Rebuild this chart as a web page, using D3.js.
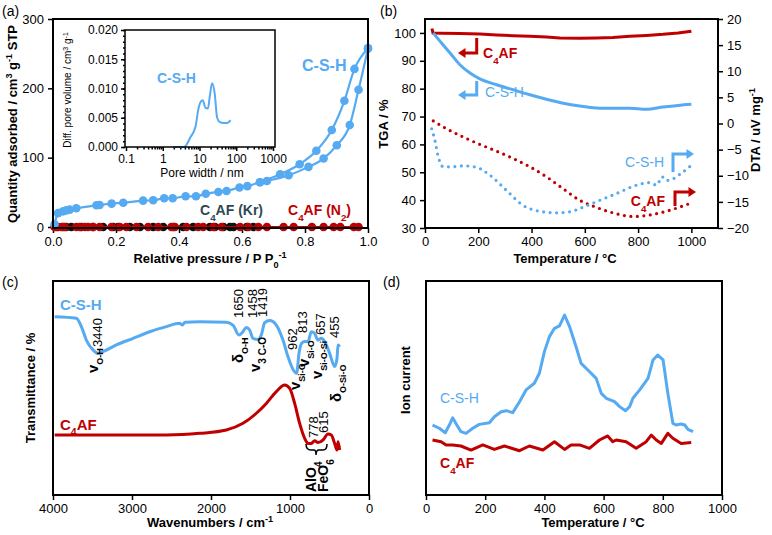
<!DOCTYPE html>
<html><head><meta charset="utf-8">
<script src="https://cdn.jsdelivr.net/npm/d3@7"></script>
<style>
body{margin:0;background:#fff;}
text{font-family:"Liberation Sans",Arial,sans-serif;}
</style></head>
<body>
<svg id="c" width="772" height="535"></svg>
<script>
// ---------- DATA ----------
// (a) N2 isotherm of C-S-H
const isoAdsP = [0.005,0.016,0.032,0.042,0.053,0.074,0.138,0.148,0.186,0.223,0.286,0.318,0.353,0.38,0.421,0.454,0.485,0.525,0.551,0.592,0.617,0.657,0.679,0.748,0.811,0.859,0.901,0.942,0.970,1.0];
const isoAdsQ = [4,20,22.6,24,25,27,31.3,31.8,33.7,35,38,38.5,41.4,41.4,44.3,44.3,48,50.5,52,57,59,64.5,66.4,74.6,86.7,98.7,118,147,198,257.6];
const isoDesP = [1.0,0.957,0.925,0.885,0.836,0.783,0.721,0.657];
const isoDesQ = [257.6,228,182,140,110,90.5,76,64.5];
const n2P = [0.005,0.016,0.027,0.037,0.074,0.085,0.101,0.111,0.127,0.148,0.186,0.212,0.233,0.265,0.302,0.334,0.376,0.387,0.424,0.461,0.477,0.509,0.535,0.594,0.620,0.652,0.679,0.732,0.764,0.822,0.859,0.891,0.912,0.955,0.970];
const krP = [0.011,0.032,0.042,0.058,0.090,0.127,0.159,0.191,0.207,0.244,0.276,0.318,0.350,0.382,0.413,0.445,0.498,0.514,0.541,0.562,0.573,0.615,0.636];
// inset: pore size distribution
const psdW = [1.87,3.8,5.7,7.8,9.2,10.7,12.3,14.5,17,19,22,26,30,35,46,56,70];
const psdV = [0,0,0.0017,0.0035,0.0063,0.0077,0.008,0.0067,0.0066,0.0086,0.0109,0.0091,0.0051,0.0043,0.0041,0.0041,0.0046];
// (b) TGA / DTA
const tgaC4T = [26,30,62,131,206,269,331,394,456,506,581,644,706,769,831,894,950,1000];
const tgaC4V = [101.6,100,99.9,99.8,99.6,99.3,99.0,98.8,98.5,98.2,98.1,98.2,98.4,98.8,99.1,99.5,100.0,100.6];
const tgaCshT = [31,62,94,131,169,206,269,331,394,456,519,581,656,706,769,831,894,950,1000];
const tgaCshV = [100,96.4,92.8,88.6,85.6,83.5,81.4,79.6,77.8,76.2,74.8,73.8,73.0,73.0,73.0,72.6,73.4,74.0,74.4];
const dtaC4T = [31,81,144,206,269,331,394,456,519,581,631,706,781,856,919,1000];
const dtaC4V = [0.5,-1,-2.6,-4,-5.3,-6.7,-8.3,-10.2,-12.5,-14.7,-15.8,-17.1,-17.8,-17.4,-16.6,-15.2];
const dtaCshT = [25,37,50,69,94,144,194,244,306,369,431,494,544,594,656,719,794,844,870,890,906,931,960,1000];
const dtaCshV = [-1,-3.2,-6.4,-8.3,-8.3,-8.1,-8.4,-9.9,-12.8,-15.7,-16.8,-17.1,-16.9,-16.0,-14.7,-13.4,-11.8,-11.3,-11.8,-10.2,-10.9,-10.6,-9.6,-8.0];
// (c) FTIR (arbitrary transmittance units)
const irCshW = [3979,3705,3641,3578,3494,3430,3367,3198,2987,2776,2565,2397,2363,2329,2143,1806,1722,1646,1595,1553,1511,1468,1405,1363,1321,1257,1173,1089,1025,958,916,886,852,814,772,730,688,646,603,561,498,435,405,392,371];
const irCshT = [83.3,82.6,78.7,72.4,67.8,66.2,67,70.1,73.2,76.3,78.7,80.2,79.4,80.7,81,80.7,79.4,74.8,76.3,78.3,77.1,73.2,72.7,74.8,80.5,81.5,79.4,72.4,64.6,58.4,56.9,66.2,70.9,71.7,71.7,76.3,75.5,72.4,73.2,71.7,66.2,60,63.9,70.1,69.3];
const irC4W = [3979,2565,2143,1806,1595,1426,1300,1173,1068,1004,941,878,814,772,730,688,646,582,519,477,435,405,392,371];
const irC4T = [28,28,28.8,30.4,33.5,38.2,42.8,48.3,51.4,49.8,42.8,33.5,26.5,24.1,24.1,25.4,24.5,25.7,28.5,28,24.1,21,24.9,21];
// (d) mass spectrometry ion current (arbitrary units)
const msCshT = [22,45,65,79,90,104,118,135,158,180,214,231,254,271,293,316,338,366,383,400,417,434,451,468,485,507,524,547,575,592,609,637,654,674,688,699,722,750,767,783,801,817,834,845,862,874,885,902];
const msCshI = [32.7,31.2,29.1,32.7,36.1,32.7,29.6,28.8,31.2,33,33.8,36.6,38.9,39.4,38.5,43.6,49.1,52.2,56.9,67,74,77.9,79,84.1,78.7,69.3,61.5,58.4,54.5,47.5,45.2,43.6,41.3,39.4,41.3,45.2,49.1,54.5,63.1,65.4,63.1,47.5,33.5,32.7,33.2,32.7,30.7,29.6];
const msC4T = [22,51,68,90,118,152,192,231,265,316,349,395,434,468,490,519,552,586,614,631,643,676,710,744,761,778,795,817,834,862,896];
const msC4I = [25.7,24.9,23.4,23.4,22.9,21,23.4,21.3,22.9,20.7,22.9,21,24.9,21.3,23.4,23.4,21.8,25.7,27.6,24.9,25.7,24.9,21.8,24.9,28,25.7,24.1,28.8,26.5,24.1,24.5];
// tick labels
const aXTicks = [0,0.2,0.4,0.6,0.8,1.0], aYTicks=[0,100,200,300];
const insXTicks=[0.1,1,10,100,1000], insYTicks=[0,0.005,0.01,0.015,0.02];
const bXTicks=[0,200,400,600,800,1000], bLTicks=[30,40,50,60,70,80,90,100], bRTicks=[-20,-15,-10,-5,0,5,10,15,20];
const cXTicks=[4000,3000,2000,1000,0], dXTicks=[0,200,400,600,800,1000];

// ---------- DRAW ----------
const BLUE="#55aaf2", RED="#c00000", KR="#2d4a52";
const svg=d3.select("#c");
const FS=13;
const fmtD=d3.format("d");

function frame(x0,x1,y0,y1,w){svg.append("rect").attr("x",x0).attr("y",y0).attr("width",x1-x0).attr("height",y1-y0).attr("fill","none").attr("stroke","#000").attr("stroke-width",w||2);}
function styleAxis(g,fs){g.select(".domain").remove();g.selectAll("line").attr("stroke","#000").attr("stroke-width",1.5);g.selectAll("text").attr("font-size",fs||FS).attr("font-family","Liberation Sans, Arial, sans-serif").attr("fill","#000");}
function txt(x,y,parts,opt){opt=opt||{};const t=svg.append("text").attr("x",x).attr("y",y).attr("font-size",opt.fs||FS).attr("font-weight",opt.bold?"bold":"normal").attr("fill",opt.color||"#000").attr("text-anchor",opt.anchor||"start");
  if(opt.rot!==undefined){t.attr("x",0).attr("y",0).attr("transform",`translate(${x},${y}) rotate(${opt.rot})`);}
  if(opt.dy) t.attr("dy",opt.dy);
  parts.forEach(p=>{if(typeof p==="string"){t.append("tspan").text(p);}else{const s=t.append("tspan").text(p.t).attr("font-size",p.fs||(opt.fs||FS)*0.7);if(p.sub)s.attr("baseline-shift","sub");if(p.sup)s.attr("baseline-shift","super");}});
  return t;}
function arrowHead(x,y,dir,color,size){size=size||7;let pts;if(dir==="left")pts=[[x,y],[x+size*1.5,y-size],[x+size*1.5,y+size]];else pts=[[x,y],[x-size*1.5,y-size],[x-size*1.5,y+size]];svg.append("path").attr("d",d3.line()(pts)+"Z").attr("fill",color);}

// ===== (a) =====
const ax=d3.scaleLinear().domain([0,1]).range([53,368]);
const ay=d3.scaleLinear().domain([0,300]).range([227,19]);
svg.append("g").attr("transform","translate(0,228)").call(d3.axisBottom(ax).tickValues(aXTicks).tickFormat(d3.format(".1f")).tickSize(5).tickPadding(4)).call(g=>styleAxis(g));
svg.append("g").attr("transform","translate(53,0)").call(d3.axisLeft(ay).tickValues(aYTicks).tickSize(5).tickPadding(4)).call(g=>styleAxis(g));
const lineA=d3.line().x(d=>ax(d[0])).y(d=>ay(d[1]));
// Kr (black) and N2 (red) flat lines
const krData=krP.map(p=>[p,0]);
svg.append("path").attr("d",lineA([[0.005,0],[0.64,0]])).attr("stroke","#000").attr("stroke-width",2).attr("fill","none");
svg.selectAll(".kr").data(krData).enter().append("circle").attr("cx",d=>ax(d[0])).attr("cy",d=>ay(d[1])).attr("r",4.3).attr("fill","#111");
const n2Data=n2P.map(p=>[p,0]);
svg.append("path").attr("d",lineA([[0.005,0],[0.97,0]])).attr("stroke",RED).attr("stroke-width",2).attr("fill","none");
svg.selectAll(".n2").data(n2Data).enter().append("circle").attr("cx",d=>ax(d[0])).attr("cy",d=>ay(d[1])).attr("r",4.3).attr("fill",RED);
// C-S-H isotherm
const ads=isoAdsP.map((p,i)=>[p,isoAdsQ[i]]), des=isoDesP.map((p,i)=>[p,isoDesQ[i]]);
[ads,des].forEach(dat=>{
  svg.append("path").attr("d",d3.line().curve(d3.curveMonotoneX).x(d=>ax(d[0])).y(d=>ay(d[1]))(dat.slice().sort((a,b)=>a[0]-b[0]))).attr("stroke",BLUE).attr("stroke-width",2.2).attr("fill","none");
  svg.append("g").selectAll("circle").data(dat).enter().append("circle").attr("cx",d=>ax(d[0])).attr("cy",d=>ay(d[1])).attr("r",4.3).attr("fill",BLUE);
});
frame(53,368,19,228);
txt(302,71,["C-S-H"],{bold:true,fs:16,color:BLUE});
txt(200,215,["C",{t:"4",sub:true},"AF (Kr)"],{bold:true,fs:14,color:KR});
txt(288,215,["C",{t:"4",sub:true},"AF (N",{t:"2",sub:true},")"],{bold:true,fs:14,color:RED});
txt(17,124,["Quantity adsorbed / cm",{t:"3",sup:true}," g",{t:"-1",sup:true}," STP"],{bold:true,rot:-90,anchor:"middle"});
txt(210,263,["Relative pressure / P P",{t:"0",sub:true},{t:"-1",sup:true}],{bold:true,anchor:"middle"});
// inset
const IL=125, IR=275, IT=30, IB=147;
const ix=d3.scaleLog().domain([0.1,1000]).range([126,273]);
const iy=d3.scaleLinear().domain([0,0.02]).range([IB,IT]);
svg.append("rect").attr("x",IL).attr("y",IT).attr("width",IR-IL).attr("height",IB-IT).attr("fill","#fff");
const minorX=[];[0.1,1,10,100].forEach(d=>{for(let k=2;k<10;k++)minorX.push(d*k);});
svg.append("g").attr("transform",`translate(0,${IB})`).call(d3.axisBottom(ix).tickValues(minorX).tickSize(2.5).tickFormat("")).call(g=>styleAxis(g));
svg.append("g").attr("transform",`translate(0,${IB})`).call(d3.axisBottom(ix).tickValues(insXTicks).tickSize(4).tickPadding(3).tickFormat(d=>String(d))).call(g=>styleAxis(g,12));
svg.append("g").attr("transform",`translate(${IL},0)`).call(d3.axisLeft(iy).tickValues(d3.range(0,0.0201,0.001)).tickSize(2).tickFormat("")).call(g=>styleAxis(g));
svg.append("g").attr("transform",`translate(${IL},0)`).call(d3.axisLeft(iy).tickValues(insYTicks).tickSize(4).tickPadding(3).tickFormat(d3.format(".3f"))).call(g=>styleAxis(g,12));
svg.append("path").attr("d",d3.line().curve(d3.curveMonotoneX).x(d=>ix(d[0])).y(d=>iy(d[1]))(psdW.map((w,i)=>[w,psdV[i]]))).attr("stroke",BLUE).attr("stroke-width",2).attr("fill","none");
frame(IL,IR,IT,IB,1.5);
txt(157,83,["C-S-H"],{bold:true,fs:14,color:BLUE});
txt(202,177,["Pore width / nm"],{fs:12,anchor:"middle"});
txt(71,90,["Diff. pore volume / cm",{t:"3",sup:true}," g",{t:"-1",sup:true}],{fs:10,rot:-90,anchor:"middle"});
txt(2,16,["(a)"],{fs:14});

// ===== (b) =====
const bx=d3.scaleLinear().domain([0,1100]).range([425,718]);
const byL=d3.scaleLinear().domain([30,105]).range([228,19]);
const byR=d3.scaleLinear().domain([-20,20]).range([228,19]);
svg.append("g").attr("transform","translate(0,228)").call(d3.axisBottom(bx).tickValues(bXTicks).tickFormat(fmtD).tickSize(5).tickPadding(4)).call(g=>styleAxis(g));
svg.append("g").attr("transform","translate(425,0)").call(d3.axisLeft(byL).tickValues(bLTicks).tickSize(5).tickPadding(4)).call(g=>styleAxis(g));
svg.append("g").attr("transform","translate(718,0)").call(d3.axisRight(byR).tickValues(bRTicks).tickSize(5).tickPadding(4)).call(g=>styleAxis(g));
const lineBL=d3.line().curve(d3.curveMonotoneX).x(d=>bx(d[0])).y(d=>byL(d[1]));
const lineBR=d3.line().curve(d3.curveMonotoneX).x(d=>bx(d[0])).y(d=>byR(d[1]));
svg.append("path").attr("d",lineBR(dtaC4T.map((t,i)=>[t,dtaC4V[i]]))).attr("stroke",RED).attr("stroke-width",3.2).attr("stroke-dasharray","0,6.5").attr("stroke-linecap","round").attr("fill","none");
svg.append("path").attr("d",lineBR(dtaCshT.map((t,i)=>[t,dtaCshV[i]]))).attr("stroke",BLUE).attr("stroke-width",3.2).attr("stroke-dasharray","0,6.5").attr("stroke-linecap","round").attr("fill","none");
svg.append("path").attr("d",d3.line().x(d=>bx(d[0])).y(d=>byL(d[1]))(tgaC4T.map((t,i)=>[t,tgaC4V[i]]))).attr("stroke",RED).attr("stroke-width",3).attr("fill","none");
svg.append("path").attr("d",lineBL(tgaCshT.map((t,i)=>[t,tgaCshV[i]]))).attr("stroke",BLUE).attr("stroke-width",3).attr("fill","none");
frame(425,718,19,228);
// arrows
svg.append("path").attr("d","M476.7,38 V53 H465").attr("stroke",RED).attr("stroke-width",3).attr("fill","none");
arrowHead(458,53,"left",RED,5);
txt(483,58,["C",{t:"4",sub:true},"AF"],{bold:true,fs:14,color:RED});
svg.append("path").attr("d","M476.7,81 V95 H465").attr("stroke",BLUE).attr("stroke-width",3).attr("fill","none");
arrowHead(458,95,"left",BLUE,5);
txt(485,97,["C-S-H"],{fs:14,color:BLUE});
svg.append("path").attr("d","M673,172 V154 H687").attr("stroke",BLUE).attr("stroke-width",3).attr("fill","none");
arrowHead(694,154,"right",BLUE,5);
txt(664,167,["C-S-H"],{fs:14,color:BLUE,anchor:"end"});
svg.append("path").attr("d","M675,206 V192 H689").attr("stroke",RED).attr("stroke-width",3).attr("fill","none");
arrowHead(696,192,"right",RED,5);
txt(665,206,["C",{t:"4",sub:true},"AF"],{bold:true,fs:14,color:RED,anchor:"end"});
txt(388,124,["TGA / %"],{bold:true,rot:-90,anchor:"middle"});
txt(760,130,["DTA / uV mg",{t:"-1",sup:true}],{bold:true,rot:-90,anchor:"middle"});
txt(565,263,["Temperature / °C"],{bold:true,anchor:"middle"});
txt(380,16,["(b)"],{fs:14});

// ===== (c) =====
const cx=d3.scaleLinear().domain([4000,0]).range([53,369]);
const cy=d3.scaleLinear().domain([0,100]).range([495,281]);
svg.append("g").attr("transform","translate(0,495)").call(d3.axisBottom(cx).tickValues(cXTicks).tickFormat(fmtD).tickSize(5).tickPadding(4)).call(g=>styleAxis(g));
const lineC=d3.line().curve(d3.curveMonotoneX).x(d=>cx(d[0])).y(d=>cy(d[1]));
svg.append("path").attr("d",lineC(irCshW.map((w,i)=>[w,irCshT[i]]))).attr("stroke",BLUE).attr("stroke-width",3).attr("fill","none");
svg.append("path").attr("d",lineC(irC4W.map((w,i)=>[w,irC4T[i]]))).attr("stroke",RED).attr("stroke-width",3).attr("fill","none");
frame(53,369,281,495);
txt(60,310,["C-S-H"],{bold:true,fs:15,color:BLUE});
txt(60,430,["C",{t:"4",sub:true},"AF"],{bold:true,fs:15,color:RED});
txt(35,388,["Transmittance / %"],{bold:true,rot:-90,anchor:"middle"});
txt(210,527,["Wavenumbers / cm",{t:"-1",sup:true}],{bold:true,anchor:"middle"});
txt(2,287,["(c)"],{fs:14});
const rotNum=(x,y,s)=>txt(x,y,[s],{fs:13,rot:-90,dy:"0.35em"});
rotNum(97,347,"3440");rotNum(238,318,"1650");rotNum(252,318,"1458");rotNum(262,317,"1419");
rotNum(292,350,"962");rotNum(302,333,"813");rotNum(320,335,"657");rotNum(334,338,"455");
rotNum(313,438,"778");rotNum(323,433,"615");
const rotLab=(x,y,m,s)=>txt(x,y,[m,{t:s,sub:true,fs:9}],{fs:15,bold:true,rot:-90,dy:"0.35em"});
rotLab(93,373,"v","O-H");rotLab(238,363,"δ","O-H");
txt(255,372,["v",{t:"3 C-O",sub:true,fs:10}],{fs:15,bold:true,rot:-90,dy:"0.35em"});
rotLab(295,390,"v","Si-O");rotLab(304,367,"v","Si-O");rotLab(317,379,"v","Si-O-Si");rotLab(336,402,"δ","O-Si-O");
svg.append("path").attr("d","M306,444 Q306,450 311,450 L314,450 Q316,450 316,455 Q316,450 319,450 L323,450 Q327,450 327,444").attr("stroke","#000").attr("stroke-width",1.5).attr("fill","none");
txt(311,492,["AlO",{t:"4",sub:true,fs:10}],{fs:14,bold:true,rot:-90,dy:"0.35em"});
txt(323,492,["FeO",{t:"6",sub:true,fs:10}],{fs:14,bold:true,rot:-90,dy:"0.35em"});

// ===== (d) =====
const dx=d3.scaleLinear().domain([0,1000]).range([426,722]);
const dy=d3.scaleLinear().domain([0,100]).range([495,281]);
svg.append("g").attr("transform","translate(0,495)").call(d3.axisBottom(dx).tickValues(dXTicks).tickFormat(fmtD).tickSize(5).tickPadding(4)).call(g=>styleAxis(g));
const lineD=d3.line().x(d=>dx(d[0])).y(d=>dy(d[1]));
svg.append("path").attr("d",lineD(msCshT.map((t,i)=>[t,msCshI[i]]))).attr("stroke",BLUE).attr("stroke-width",3).attr("stroke-linejoin","round").attr("fill","none");
svg.append("path").attr("d",lineD(msC4T.map((t,i)=>[t,msC4I[i]]))).attr("stroke",RED).attr("stroke-width",3).attr("stroke-linejoin","round").attr("fill","none");
frame(426,722,281,495);
txt(440,403,["C-S-H"],{fs:14,color:BLUE});
txt(440,468,["C",{t:"4",sub:true},"AF"],{bold:true,fs:14,color:RED});
txt(410,380,["Ion current"],{bold:true,rot:-90,anchor:"middle"});
txt(593,527,["Temperature / °C"],{bold:true,anchor:"middle"});
txt(383,287,["(d)"],{fs:14});
</script>
</body></html>
